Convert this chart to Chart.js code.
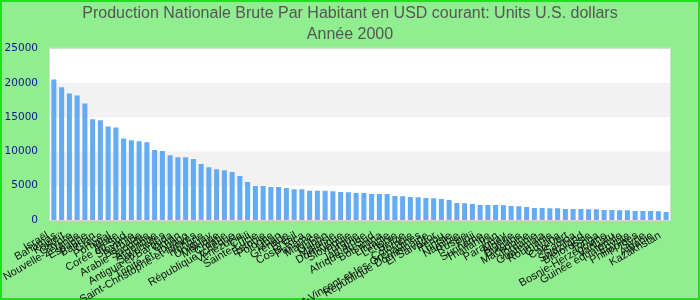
<!DOCTYPE html>
<html>
<head>
<meta charset="utf-8">
<script src="https://cdn.jsdelivr.net/npm/chart.js@4/dist/chart.umd.min.js"></script>
<style>
html,body{margin:0;padding:0;background:#90ee90;}
#wrap{width:700px;height:300px;position:relative;}
</style>
</head>
<body>
<div id="wrap"><canvas id="c" width="700" height="300"></canvas></div>
<script>
const titleLines = ["Production Nationale Brute Par Habitant en USD courant: Units U.S. dollars", "Année 2000"];

const countries = [
"Israël","Bahamas","Koweït","Chypre","Nouvelle-Zélande","Espagne","Bahreïn","Grèce","Portugal","Malte",
"Corée du Sud","Slovénie","Barbade","Arabie Saoudite","Argentine","Seychelles","Antigua-et-Barbuda","Oman","Trinité-et-Tobago","Saint-Christophe-et-Niévès",
"Hongrie","Uruguay","Mexique","Croatie","République tchèque","Venezuela","Chili","Sainte-Lucie","Estonie","Pologne",
"Liban","Grenade","Brésil","Costa Rica","Panama","Maurice","Gabon","Malaisie","Dominique","Slovaquie",
"Turquie","Jamaïque","Afrique du Sud","Botswana","Lituanie","Lettonie","Belize","Colombie","Saint-Vincent-et-les-Grenadines","République Dominicaine",
"El Salvador","Pérou","Tunisie","Namibie","Russie","Fidji","Suriname","Thaïlande","Iran","Paraguay",
"Algérie","Bulgarie","Macédoine","Jordanie","Guatemala","Roumanie","Guyana","Cap-Vert","Samoa","Swaziland",
"Biélorussie","Tonga","Bosnie-Herzégovine","Vanuatu","Guinée équatoriale","Égypte","Philippines","Syrie","Albanie","Kazakhstan"
];

const values = [
20500,19350,18450,18150,17000,14700,14550,13650,13500,11900,
11650,11500,11350,10200,10050,9450,9150,9150,8900,8150,
7700,7400,7250,7000,6400,5550,4950,4950,4800,4800,
4650,4500,4500,4250,4250,4250,4200,4100,4050,3950,
3950,3800,3800,3780,3500,3480,3350,3330,3200,3180,
3050,2900,2480,2450,2350,2200,2180,2180,2160,2050,
2020,1900,1750,1740,1730,1720,1600,1600,1590,1580,
1570,1450,1450,1440,1430,1320,1310,1300,1290,1160
];

const yMin = 0, yMax = 25000, yStep = 5000;

const bgPlugin = {
  id: 'bg',
  beforeDraw(chart) {
    const ctx = chart.ctx, a = chart.chartArea, y = chart.scales.y;
    ctx.save();
    ctx.fillStyle = '#90ee90';
    ctx.fillRect(0, 0, chart.width, chart.height);
    ctx.strokeStyle = '#22dd22';
    ctx.lineWidth = 2;
    ctx.strokeRect(1, 1, chart.width - 2, chart.height - 2);
    ctx.fillStyle = '#ffffff';
    ctx.fillRect(a.left, a.top, a.right - a.left, a.bottom - a.top);
    const ticks = y.ticks;
    for (let i = 0; i < ticks.length - 1; i++) {
      if (i % 2 === 1) {
        const y0 = y.getPixelForValue(ticks[i].value);
        const y1 = y.getPixelForValue(ticks[i + 1].value);
        ctx.fillStyle = '#f2f2f2';
        ctx.fillRect(a.left, y1, a.right - a.left, y0 - y1);
      }
    }
    ctx.strokeStyle = '#d8d8d8';
    ctx.lineWidth = 1;
    ctx.strokeRect(a.left - 0.5, a.top - 0.5, a.right - a.left + 1, a.bottom - a.top + 1);
    ctx.restore();
  }
};

new Chart(document.getElementById('c'), {
  type: 'bar',
  data: {
    labels: countries,
    datasets: [{
      data: values,
      backgroundColor: '#63abf3',
      borderWidth: 0,
      categoryPercentage: 1.0,
      barPercentage: 0.65,
      yAxisID: 'y'
    }]
  },
  options: {
    responsive: false,
    animation: false,
    devicePixelRatio: 1,
    layout: { padding: 0 },
    plugins: {
      legend: { display: false },
      tooltip: { enabled: false },
      title: {
        display: true,
        text: titleLines,
        color: '#555555',
        font: { family: 'Liberation Sans, Arial, sans-serif', size: 16, weight: 'normal', lineHeight: 1.3 },
        padding: { top: 3, bottom: 4 }
      }
    },
    scales: {
      x: {
        grid: { display: false, drawTicks: false },
        border: { display: false },
        ticks: {
          autoSkip: false,
          maxRotation: 30,
          minRotation: 30,
          color: '#111111',
          padding: 9,
          labelOffset: -6,
          font: { family: 'Liberation Sans, Arial, sans-serif', size: 11 }
        },
        afterFit(scale) { scale.height = 80; }
      },
      y: {
        position: 'left',
        min: yMin,
        max: yMax,
        grid: { display: false, drawTicks: false },
        border: { display: false },
        ticks: {
          stepSize: yStep,
          color: '#16168a',
          padding: 12,
          font: { family: 'DejaVu Sans, sans-serif', size: 10.5 },
          callback: (v) => String(v)
        },
        afterFit(scale) { scale.width = 50; }
      },
      yRight: {
        position: 'right',
        display: true,
        min: yMin,
        max: yMax,
        grid: { display: false, drawTicks: false },
        border: { display: false },
        ticks: { display: false },
        afterFit(scale) { scale.width = 30; }
      }
    }
  },
  plugins: [bgPlugin]
});
</script>
</body>
</html>
